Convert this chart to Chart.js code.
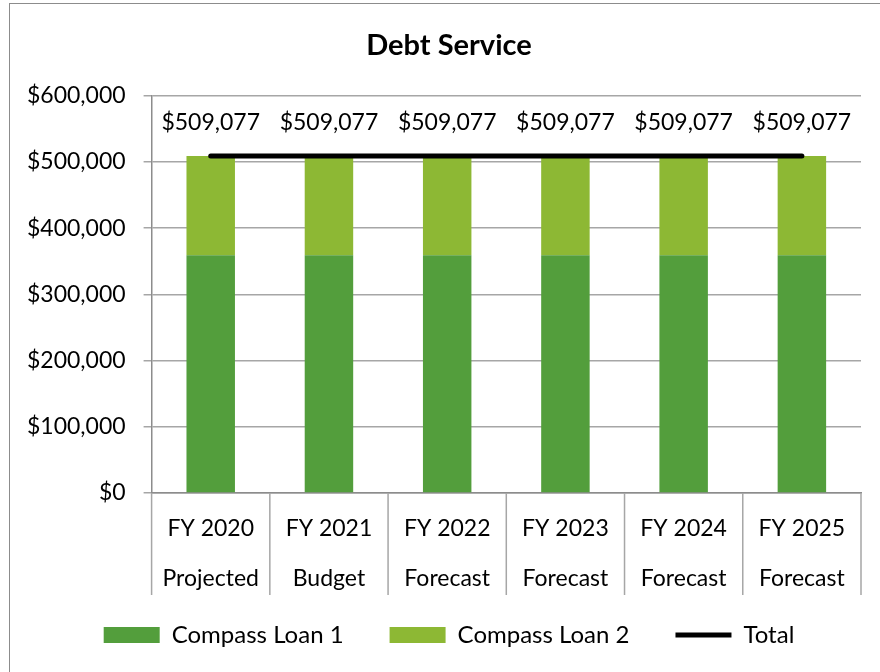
<!DOCTYPE html>
<html>
<head>
<meta charset="utf-8">
<script src="https://cdn.jsdelivr.net/npm/chart.js@4.4.1/dist/chart.umd.min.js"></script>
<style>
  body { margin: 0; background: #fff; }
  #frame { position: absolute; left: 9px; top: 3px; width: 900px; height: 700px; border: 1px solid #8c8c8c; }
  #wrap { position: absolute; left: 0; top: 0; width: 880px; height: 672px; }
</style>
</head>
<body>
<div id="frame"></div>
<div id="wrap"><canvas id="myChart"></canvas></div>
<script>
// 年度ラベル（2段）
var years = ["FY 2020", "FY 2021", "FY 2022", "FY 2023", "FY 2024", "FY 2025"];
var stages = ["Projected", "Budget", "Forecast", "Forecast", "Forecast", "Forecast"];
var loan1 = [359000, 359000, 359000, 359000, 359000, 359000];
var loan2 = [150077, 150077, 150077, 150077, 150077, 150077];
var total = [509077, 509077, 509077, 509077, 509077, 509077];
var yTicks = [0, 100000, 200000, 300000, 400000, 500000, 600000];

var labels = [];
for (var i = 0; i < years.length; i++) {
  labels.push([years[i], stages[i]]);
}

function money(v) {
  return "$" + Number(v).toLocaleString("en-US");
}

// 合計ラインの上に金額を書く
var totalLabels = {
  id: "totalLabels",
  afterDatasetsDraw: function (chart) {
    var meta = chart.getDatasetMeta(2);
    var c = chart.ctx;
    c.save();
    c.font = "23px Lato";
    c.fillStyle = "#000";
    c.textAlign = "center";
    c.textBaseline = "middle";
    meta.data.forEach(function (pt, idx) {
      c.fillText(money(total[idx]), pt.x, pt.y - 33);
    });
    c.restore();
  }
};

// X軸の区切り線（カテゴリの境目）
var dividers = {
  id: "dividers",
  afterDraw: function (chart) {
    var sx = chart.scales.x;
    var n = labels.length;
    var half = (sx.getPixelForTick(1) - sx.getPixelForTick(0)) / 2;
    var c = chart.ctx;
    c.save();
    c.strokeStyle = "#a6a6a6";
    c.lineWidth = 1.5;
    c.beginPath();
    for (var k = 0; k <= n; k++) {
      var x = k < n ? sx.getPixelForTick(k) - half : sx.getPixelForTick(n - 1) + half;
      c.moveTo(x, sx.top);
      c.lineTo(x, sx.top + 102);
    }
    c.stroke();
    c.restore();
  }
};

// 凡例の高さを詰めて、位置を少し上へ。タイトルと凡例は少し右へ
var tweakLayout = {
  id: "tweakLayout",
  beforeInit: function (chart) {
    var fit = chart.legend.fit;
    chart.legend.fit = function () {
      fit.call(this);
      this.height = 72;
    };
  },
  afterLayout: function (chart) {
    chart.legend.top -= 23;
    chart.legend.bottom -= 23;
    chart.legend.left += 14;
    chart.legend.right += 14;
    chart.titleBlock.left += 14;
    chart.titleBlock.right += 14;
  }
};

Chart.defaults.font.family = "Lato";
Chart.defaults.color = "#000";

var ctx = document.getElementById("myChart");
var myChart = new Chart(ctx, {
  type: "bar",
  data: {
    labels: labels,
    datasets: [
      { label: "Compass Loan 1", data: loan1, backgroundColor: "#539e3c", stack: "loans", order: 1, pointStyle: "rect" },
      { label: "Compass Loan 2", data: loan2, backgroundColor: "#8db834", stack: "loans", order: 1, pointStyle: "rect" },
      { type: "line", label: "Total", data: total, borderColor: "#000", backgroundColor: "#000", borderWidth: 5,
        borderCapStyle: "round", pointRadius: 0, pointStyle: "line", stack: "total", order: 0 }
    ]
  },
  options: {
    responsive: true,
    maintainAspectRatio: false,
    animation: false,
    layout: { padding: { left: 9, right: 19, top: 20, bottom: 0 } },
    datasets: { bar: { barPercentage: 0.41, categoryPercentage: 1 } },
    plugins: {
      title: { display: true, text: "Debt Service", font: { size: 29, weight: "bold" }, padding: { top: 8, bottom: 33 } },
      legend: {
        position: "bottom",
        labels: {
          usePointStyle: true,
          pointStyleWidth: 56,
          boxHeight: 16,
          padding: 46,
          font: { size: 24 },
          sort: function (a, b) { return a.datasetIndex - b.datasetIndex; }
        }
      },
      tooltip: { enabled: false }
    },
    scales: {
      x: {
        stacked: true,
        border: { display: true, color: "#8c8c8c", width: 1.5 },
        grid: { display: false },
        ticks: { font: { size: 23, lineHeight: 2.17 }, padding: 3, maxRotation: 0, autoSkip: false },
        afterFit: function (axis) { axis.height = 107; }
      },
      y: {
        stacked: true,
        min: 0,
        max: 600000,
        afterBuildTicks: function (axis) {
          axis.ticks = yTicks.map(function (v) { return { value: v }; });
        },
        border: { display: true, color: "#8c8c8c", width: 1.5 },
        grid: { color: "#a6a6a6", lineWidth: 1.5, tickLength: 8 },
        ticks: { font: { size: 23 }, padding: 18, callback: function (v) { return money(v); } }
      }
    }
  },
  plugins: [totalLabels, dividers, tweakLayout]
});
</script>
</body>
</html>
